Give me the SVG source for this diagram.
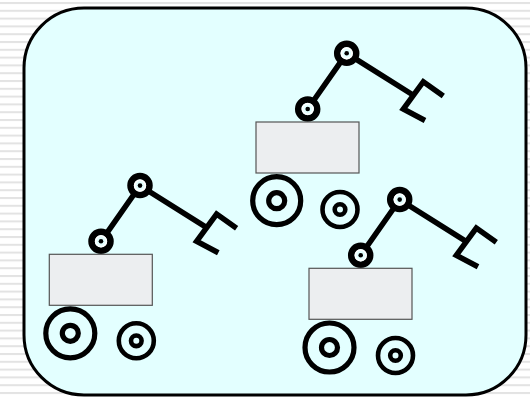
<svg xmlns="http://www.w3.org/2000/svg" width="530" height="398" viewBox="0 0 530 398">
  <defs>
    <!-- faint ruled-paper background -->
    <pattern id="rules" x="0" y="2" width="530" height="7.8" patternUnits="userSpaceOnUse">
      <rect x="0" y="0" width="530" height="7.8" fill="#ffffff"/>
      <rect x="0" y="0" width="530" height="2" fill="#e3e3e3"/>
    </pattern>
    <style>
      .panel { fill: #e3ffff; stroke: #000; stroke-width: 3; }
      .body { fill: #eceef0; stroke: #555; stroke-width: 1.2; }
      .arm { fill: none; stroke: #000; stroke-width: 5.5; stroke-linejoin: miter; stroke-linecap: butt; }
      .joint { fill: #e3ffff; stroke: #000; stroke-width: 6.5; }
      .jring { fill: none; stroke: #fff; stroke-width: 1.6; }
      .jdot { fill: #000; }
      .wheel { fill: none; stroke: #000; stroke-width: 5.2; }
      .swheel { fill: none; stroke: #000; stroke-width: 4.6; }
    </style>
  </defs>

  <rect x="0" y="0" width="530" height="398" fill="url(#rules)"/>
  <rect class="panel" x="24" y="8" width="502" height="387" rx="60" ry="60"/>

  <!-- robot on the upper right -->
  <g id="robot1" transform="translate(256,122)">
    <polyline class="arm" points="51.7,-13 90.7,-68.7 157,-27"/>
    <polyline class="arm" points="187.3,-26 167.3,-40.3 147.3,-13 169,-1.5"/>
    <circle class="joint" cx="51.7" cy="-13" r="9.5"/>
    <circle class="jring" cx="51.7" cy="-13" r="5.3"/>
    <circle class="jdot" cx="51.7" cy="-13" r="2.3"/>
    <circle class="joint" cx="90.7" cy="-68.7" r="9.5"/>
    <circle class="jring" cx="90.7" cy="-68.7" r="5.3"/>
    <circle class="jdot" cx="90.7" cy="-68.7" r="2.3"/>
    <rect class="body" x="0" y="0" width="103" height="51"/>
    <circle class="wheel" cx="20.7" cy="78.7" r="24"/>
    <circle class="wheel" cx="20.7" cy="78.7" r="8"/>
    <circle class="swheel" cx="84" cy="87.5" r="17.5"/>
    <circle class="swheel" cx="84" cy="87.5" r="5.3"/>
  </g>

  <!-- robot on the lower left -->
  <g id="robot2" transform="translate(49.3,254.3)">
    <polyline class="arm" points="51.7,-13 90.7,-68.7 157,-27"/>
    <polyline class="arm" points="187.3,-26 167.3,-40.3 147.3,-13 169,-1.5"/>
    <circle class="joint" cx="51.7" cy="-13" r="9.5"/>
    <circle class="jring" cx="51.7" cy="-13" r="5.3"/>
    <circle class="jdot" cx="51.7" cy="-13" r="2.3"/>
    <circle class="joint" cx="90.7" cy="-68.7" r="9.5"/>
    <circle class="jring" cx="90.7" cy="-68.7" r="5.3"/>
    <circle class="jdot" cx="90.7" cy="-68.7" r="2.3"/>
    <rect class="body" x="0" y="0" width="103" height="51"/>
    <circle class="wheel" cx="21" cy="79" r="24.5"/>
    <circle class="wheel" cx="21" cy="79" r="8"/>
    <circle class="swheel" cx="87" cy="86.5" r="17.5"/>
    <circle class="swheel" cx="87" cy="86.5" r="5.3"/>
  </g>

  <!-- robot on the lower right -->
  <g id="robot3" transform="translate(309,268.3)">
    <polyline class="arm" points="51.7,-13 90.7,-68.7 157,-27"/>
    <polyline class="arm" points="187.3,-26 167.3,-40.3 147.3,-13 169,-1.5"/>
    <circle class="joint" cx="51.7" cy="-13" r="9.5"/>
    <circle class="jring" cx="51.7" cy="-13" r="5.3"/>
    <circle class="jdot" cx="51.7" cy="-13" r="2.3"/>
    <circle class="joint" cx="90.7" cy="-68.7" r="9.5"/>
    <circle class="jring" cx="90.7" cy="-68.7" r="5.3"/>
    <circle class="jdot" cx="90.7" cy="-68.7" r="2.3"/>
    <rect class="body" x="0" y="0" width="103" height="51"/>
    <circle class="wheel" cx="20.5" cy="79.2" r="24.5"/>
    <circle class="wheel" cx="20.5" cy="79.2" r="8"/>
    <circle class="swheel" cx="86.5" cy="87.2" r="17.5"/>
    <circle class="swheel" cx="86.5" cy="87.2" r="5.3"/>
  </g>
</svg>
